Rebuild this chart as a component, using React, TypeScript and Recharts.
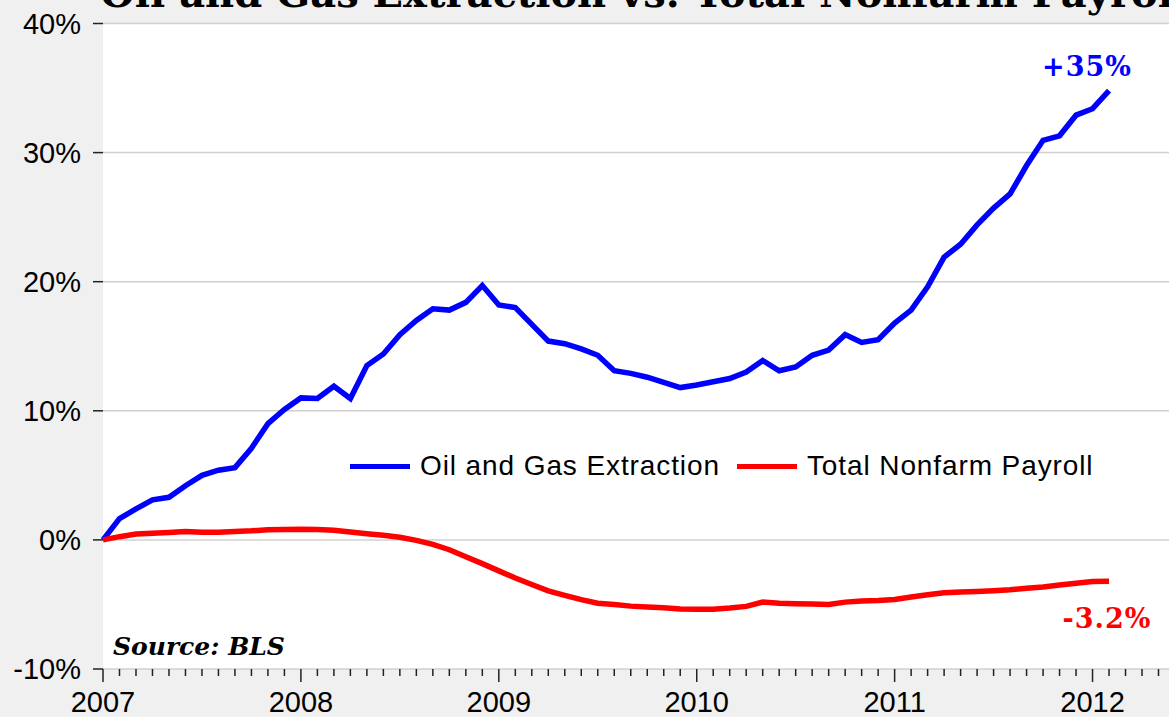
import { LineChart, Line, XAxis, YAxis, CartesianGrid, Legend, ReferenceDot } from 'recharts';

// monthly, Jan 2007 .. Feb 2012, % change since Jan 2007
const startYear = 2007;
const oilGas = [
  0, 1.65, 2.4, 3.1, 3.3, 4.2, 5.0, 5.4, 5.6, 7.1, 9.0, 10.1,
  11.0, 10.95, 11.9, 10.95, 13.5, 14.4, 15.9, 17.0, 17.9, 17.8, 18.4, 19.7,
  18.2, 18.0, 16.7, 15.4, 15.2, 14.8, 14.3, 13.1, 12.9, 12.6, 12.2, 11.8,
  12.0, 12.25, 12.5, 13.0, 13.9, 13.1, 13.4, 14.3, 14.7, 15.9, 15.3, 15.5,
  16.8, 17.8, 19.6, 21.9, 22.9, 24.4, 25.7, 26.8, 29.0, 30.95, 31.3, 32.9,
  33.4, 34.8,
];
const payroll = [
  0, 0.25, 0.45, 0.52, 0.58, 0.65, 0.6, 0.6, 0.65, 0.7, 0.78, 0.8,
  0.82, 0.8, 0.74, 0.62, 0.48, 0.36, 0.2, -0.04, -0.35, -0.76, -1.3, -1.84,
  -2.4, -2.95, -3.45, -3.95, -4.3, -4.63, -4.9, -5.0, -5.13, -5.2, -5.25, -5.36,
  -5.38, -5.38, -5.28, -5.15, -4.82, -4.9, -4.94, -4.97, -5.0, -4.82, -4.74, -4.69,
  -4.61, -4.43, -4.25, -4.09, -4.04, -4.0, -3.94, -3.86, -3.75, -3.65, -3.5, -3.35,
  -3.22, -3.2,
];
const yTicks = [-10, 0, 10, 20, 30, 40];
const monthTicks = Array.from({ length: 65 }, (_, i) => i);
const seriesNames = ['Oil and Gas Extraction', 'Total Nonfarm Payroll'];
const seriesColors = ['#0000ff', '#ff0000'];
const endLabels = ['+35%', '-3.2%'];

const data = oilGas.map((v, i) => ({ t: i, oil: v, payroll: payroll[i] }));

const sans = '"Liberation Sans", Arial, sans-serif';
const serif = '"DejaVu Serif", "Liberation Serif", serif';

const MonthTick = (props: any) => {
  const { x, y, payload } = props;
  const isYear = payload.value % 12 === 0;
  return (
    <g>
      <line x1={x} y1={y} x2={x} y2={y + (isYear ? 13 : 7)} stroke="#222" strokeWidth={1.5} />
      {isYear && (
        <text x={x} y={y + 43} textAnchor="middle" fontSize={29} fontFamily={sans} fill="#000">
          {startYear + payload.value / 12}
        </text>
      )}
    </g>
  );
};

const LegendRow = () => (
  <div style={{ display: 'flex', alignItems: 'center', fontFamily: sans, fontSize: 28, letterSpacing: 0.9, color: '#000', whiteSpace: 'nowrap' }}>
    {seriesNames.map((name, i) => (
      <div key={name} style={{ display: 'flex', alignItems: 'center', marginRight: 17 }}>
        <div style={{ width: 60, height: 5, background: seriesColors[i], marginRight: 10 }} />
        <span>{name}</span>
      </div>
    ))}
  </div>
);

const endLabel = (text: string, color: string, dx: number, dy: number) => (p: any) => (
  <text
    x={p.viewBox.x + dx}
    y={p.viewBox.y + dy}
    textAnchor="middle"
    fontFamily={serif}
    fontWeight="bold"
    fontSize={27}
    letterSpacing={1}
    fill={color}
  >
    {text}
  </text>
);

export default function App() {
  return (
    <div style={{ position: 'fixed', left: 0, top: 0, width: 1169, height: 717, overflow: 'hidden', background: '#f0f0f0' }}>
      <svg width={1169} height={40} style={{ position: 'absolute', left: 0, top: 0 }}>
        <text x={100} y={7} fontFamily={serif} fontWeight="bold" fontSize={40} fill="#000">
          Oil and Gas Extraction vs. Total Nonfarm Payroll
        </text>
      </svg>
      <div style={{ position: 'absolute', left: 0, top: 0 }}>
        <LineChart width={1175} height={717} data={data} margin={{ top: 23.5, right: 0, bottom: 0, left: 0 }}>
          <CartesianGrid vertical={false} fill="#ffffff" stroke="#d0d0d0" strokeWidth={1.5} />
          <XAxis
            dataKey="t"
            type="number"
            domain={[0, 65]}
            ticks={monthTicks}
            interval={0}
            height={48}
            axisLine={false}
            tickLine={false}
            tickSize={0}
            tickMargin={0}
            tick={<MonthTick />}
          />
          <YAxis
            type="number"
            domain={[-10, 40]}
            ticks={yTicks}
            width={103}
            axisLine={false}
            tickSize={10}
            tickMargin={12}
            tickLine={{ stroke: '#222', strokeWidth: 1.5 }}
            tick={{ fontSize: 29, fontFamily: sans, fill: '#000' }}
            tickFormatter={(v: number) => `${v}%`}
          />
          <Legend
            verticalAlign="middle"
            layout="horizontal"
            content={<LegendRow />}
            wrapperStyle={{ position: 'absolute', left: 350, top: 450, width: 'auto' }}
          />
          <Line dataKey="oil" name={seriesNames[0]} stroke={seriesColors[0]} strokeWidth={5.5} dot={false} isAnimationActive={false} />
          <Line dataKey="payroll" name={seriesNames[1]} stroke={seriesColors[1]} strokeWidth={5.5} dot={false} isAnimationActive={false} />
          <ReferenceDot x={61} y={oilGas[61]} r={0} stroke="none" fill="none" label={endLabel(endLabels[0], seriesColors[0], -22, -15)} />
          <ReferenceDot x={61} y={payroll[61]} r={0} stroke="none" fill="none" label={endLabel(endLabels[1], seriesColors[1], -2, 47)} />
          <ReferenceDot
            x={0}
            y={-10}
            r={0}
            stroke="none"
            fill="none"
            label={(p: any) => (
              <text x={p.viewBox.x + 10} y={p.viewBox.y - 14} fontFamily={serif} fontWeight="bold" fontStyle="italic" fontSize={25} fill="#000">
                Source: BLS
              </text>
            )}
          />
        </LineChart>
      </div>
    </div>
  );
}
